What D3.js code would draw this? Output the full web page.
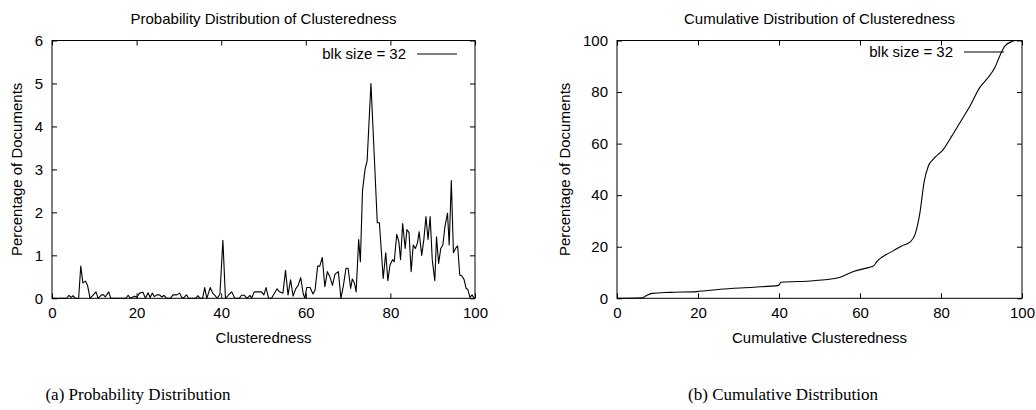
<!DOCTYPE html>
<html>
<head>
<meta charset="utf-8">
<script src="https://cdn.jsdelivr.net/npm/d3@7"></script>
<style>
  body { margin: 0; background: #fff; }
  svg text { font-family: "Liberation Sans", Arial, sans-serif; fill: #000; }
  .caption { font-family: "Liberation Serif", "Times New Roman", serif; }
</style>
</head>
<body>
<svg width="1036" height="410"></svg>
<script>
// probability distribution (left)
var probX = [0, 3.5, 4, 4.5, 5, 5.5, 6.3, 6.8, 7.3, 7.9, 8.4, 9.0, 10.4, 10.9, 11.7, 12.2, 12.6, 13.4, 13.9,
  17.5, 18.0, 18.5, 19.5, 20.0, 20.7, 21.5, 22.1, 22.7, 23.2, 23.7, 24.2, 24.8, 25.4, 26.0, 26.5, 27.1,
  28.0, 28.6, 29.5, 30.2, 30.6, 31.0, 31.8, 32.3, 34.0, 34.5, 35.0, 35.6, 36.1, 36.6, 37.4, 38.0, 38.5,
  39.1, 39.7, 40.4, 41.0, 41.5, 41.9, 42.5, 43.2, 44.3, 44.8, 45.5, 46.1, 46.8, 47.2, 47.8, 48.7, 49.5,
  50.1, 50.6, 51.2, 51.9, 53.2, 53.8, 54.6, 55.2, 55.8, 56.4, 57.0, 57.6, 58.2, 58.8, 59.4, 59.8, 60.2,
  61.0, 61.7, 62.2, 62.8, 63.3, 63.9, 64.5, 65.1, 65.7, 66.3, 66.9, 67.7, 68.3, 68.9, 69.5, 70.0, 70.6,
  71.0, 71.5, 71.9, 72.5, 72.9, 73.4, 74.0, 74.5, 75.4, 76.1, 76.9, 77.4, 78.3, 78.9, 79.4, 79.9, 80.5,
  80.9, 81.5, 82.0, 82.4, 82.9, 83.5, 83.9, 84.4, 84.9, 85.4, 85.9, 86.4, 86.8, 87.4, 87.9, 88.4, 88.9,
  89.4, 89.9, 90.5, 90.9, 91.4, 91.9, 92.4, 92.9, 93.5, 93.9, 94.4, 94.9, 95.4, 95.9, 96.4, 96.9, 97.4,
  97.9, 98.3, 98.8, 99.3, 99.8, 100];
var probPct = [0, 0, 0.07, 0.02, 0.06, 0, 0, 0.75, 0.36, 0.4, 0.3, 0, 0.15, 0, 0.08, 0.08, 0.03, 0.15, 0,
  0, 0.07, 0, 0.05, 0.02, 0.12, 0.14, 0, 0.13, 0.02, 0.12, 0.04, 0.08, 0.08, 0.03, 0.07, 0,
  0, 0.08, 0.08, 0.12, 0.03, 0, 0.08, 0, 0, 0.06, 0, 0, 0.25, 0, 0.25, 0.12, 0.07,
  0, 0.1, 1.35, 0, 0.05, 0.1, 0.15, 0, 0, 0.07, 0.07, 0, 0.07, 0, 0.15, 0.15, 0.15,
  0.08, 0.25, 0, 0, 0.22, 0.15, 0.12, 0.65, 0.08, 0.43, 0.05, 0.22, 0.3, 0.48, 0.1, 0, 0.25,
  0.25, 0.1, 0.2, 0.75, 0.75, 0.95, 0.27, 0.62, 0.5, 0.3, 0.56, 0.62, 0, 0.3, 0.7, 0.7, 0.23,
  0.45, 0.35, 0.15, 1.37, 0.85, 2.5, 3.0, 3.2, 5.0, 3.5, 1.76, 1.76, 0.46, 1.06, 0.41, 0.77, 0.9,
  0.85, 1.49, 1.32, 0.9, 1.74, 1.16, 1.6, 1.53, 0.62, 1.24, 1.16, 1.29, 1.55, 1.0, 1.36, 1.9, 1.37,
  1.9, 0.89, 0.41, 1.43, 0.81, 1.16, 1.24, 1.67, 1.98, 1.24, 2.74, 1.06, 1.16, 1.22, 0.54, 0.52, 0.44,
  0.23, 0.21, 0.02, 0.08, 0, 0];

// cumulative distribution (right)
var cumX = [0, 6.2, 7.2, 8.6, 13.1, 19.7, 25.5, 33.7, 39.9, 40.5, 48.5, 55.1, 58.4, 62.3, 63.3, 64.2,
  65.0, 66.5, 68.2, 70.3, 72.4, 73.6, 74.8, 75.8, 76.9, 78.1, 80.6, 82.7, 84.7, 87.2, 89.6, 91.3,
  93.3, 94.7, 95.8, 97.5, 98.5, 100];
var cumPct = [0, 0.2, 1.0, 1.9, 2.3, 2.6, 3.5, 4.3, 5.0, 6.2, 6.8, 8.2, 10.4, 12.0, 12.5, 14.3,
  15.5, 17.0, 18.4, 20.3, 21.9, 24.8, 33.2, 44.9, 51.4, 54.0, 57.8, 63.0, 68.2, 74.7, 81.8, 85.0,
  89.5, 94.7, 97.9, 99.6, 100, 100];

var xTicks = [0, 20, 40, 60, 80, 100];
var probTicks = [0, 1, 2, 3, 4, 5, 6];
var cumTicks = [0, 20, 40, 60, 80, 100];

var svg = d3.select("svg");
var fs = 15;

function panel(opt) {
  var x = d3.scaleLinear().domain([0, 100]).range([opt.left, opt.right]);
  var y = d3.scaleLinear().domain(opt.yDomain).range([opt.bottom, opt.top]);
  var g = svg.append("g");
  var tick = 5;

  // gnuplot style: ticks inside, mirrored on all sides
  g.append("g").attr("transform", "translate(0," + opt.bottom + ")")
    .call(d3.axisBottom(x).tickValues(xTicks).tickFormat(d3.format("d"))
      .tickSizeInner(-tick).tickSizeOuter(0).tickPadding(9))
    .call(function (a) { a.select(".domain").remove(); });
  g.append("g").attr("transform", "translate(0," + opt.top + ")")
    .call(d3.axisTop(x).tickValues(xTicks).tickSizeInner(-tick).tickSizeOuter(0).tickFormat(""))
    .call(function (a) { a.select(".domain").remove(); });
  g.append("g").attr("transform", "translate(" + opt.left + ",0)")
    .call(d3.axisLeft(y).tickValues(opt.yTicks).tickFormat(d3.format("d"))
      .tickSizeInner(-tick).tickSizeOuter(0).tickPadding(9))
    .call(function (a) { a.select(".domain").remove(); });
  g.append("g").attr("transform", "translate(" + opt.right + ",0)")
    .call(d3.axisRight(y).tickValues(opt.yTicks).tickSizeInner(-tick).tickSizeOuter(0).tickFormat(""))
    .call(function (a) { a.select(".domain").remove(); });
  g.selectAll(".tick text").attr("font-size", fs).attr("font-family", "Liberation Sans, Arial, sans-serif");
  g.selectAll(".tick line").attr("stroke", "#000");

  g.append("rect")
    .attr("x", opt.left).attr("y", opt.top)
    .attr("width", opt.right - opt.left).attr("height", opt.bottom - opt.top)
    .attr("fill", "none").attr("stroke", "#000").attr("stroke-width", 1);

  var line = d3.line()
    .x(function (d) { return x(d[0]); })
    .y(function (d) { return y(d[1]); })
    .curve(opt.curve);
  g.append("path")
    .datum(d3.zip(opt.xs, opt.ys))
    .attr("d", line)
    .attr("fill", "none").attr("stroke", "#000").attr("stroke-width", 1.1)
    .attr("stroke-linejoin", "round");

  var cx = (opt.left + opt.right) / 2;
  g.append("text").attr("x", cx).attr("y", 23.5).attr("text-anchor", "middle")
    .attr("font-size", fs).text(opt.title);
  g.append("text").attr("x", cx).attr("y", 343).attr("text-anchor", "middle")
    .attr("font-size", fs).text(opt.xLabel);
  g.append("text")
    .attr("transform", "translate(" + opt.yLabelX + "," + ((opt.top + opt.bottom) / 2) + ") rotate(-90)")
    .attr("text-anchor", "middle").attr("font-size", fs).text("Percentage of Documents");

  // key
  g.append("text").attr("x", opt.keyX).attr("y", opt.keyY + 5.3).attr("text-anchor", "end")
    .attr("font-size", fs).text("blk size = 32");
  g.append("line")
    .attr("x1", opt.keyX + 11).attr("x2", opt.keyX + 51)
    .attr("y1", opt.keyY).attr("y2", opt.keyY)
    .attr("stroke", "#000").attr("stroke-width", 1.1);

  svg.append("text").attr("class", "caption")
    .attr("x", opt.capX).attr("y", 400).attr("text-anchor", "middle")
    .attr("font-size", 17).text(opt.caption);
}

panel({
  left: 52, right: 475, top: 40.5, bottom: 298.3,
  yDomain: [0, 6], yTicks: probTicks,
  xs: probX, ys: probPct, curve: d3.curveLinear,
  title: "Probability Distribution of Clusteredness",
  xLabel: "Clusteredness", yLabelX: 22,
  keyX: 406, keyY: 54,
  caption: "(a) Probability Distribution", capX: 138
});

panel({
  left: 617, right: 1022, top: 40.5, bottom: 298.3,
  yDomain: [0, 100], yTicks: cumTicks,
  xs: cumX, ys: cumPct, curve: d3.curveMonotoneX,
  title: "Cumulative Distribution of Clusteredness",
  xLabel: "Cumulative Clusteredness", yLabelX: 570,
  keyX: 953, keyY: 52,
  caption: "(b) Cumulative Distribution", capX: 783
});
</script>
</body>
</html>
